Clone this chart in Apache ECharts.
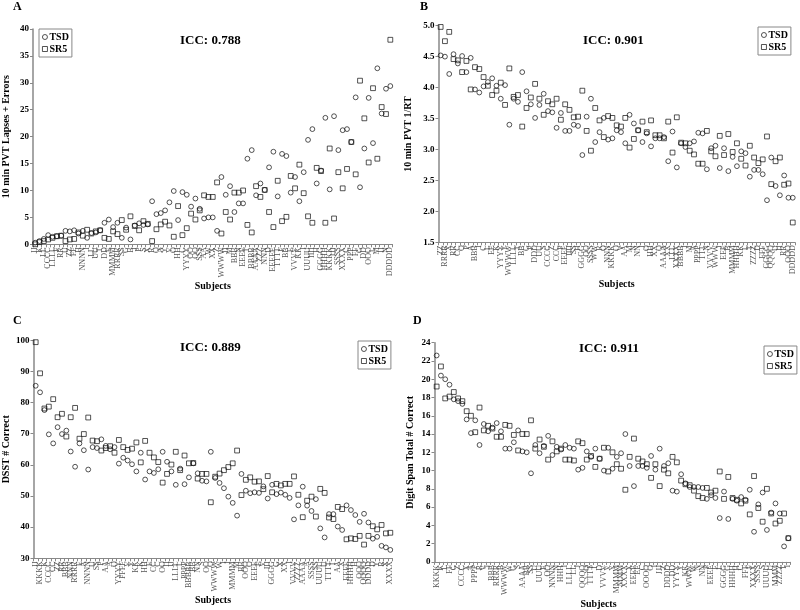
<!DOCTYPE html>
<html><head><meta charset="utf-8">
<script src="https://cdn.jsdelivr.net/npm/echarts@6/dist/echarts.min.js"></script>
<style>html,body{margin:0;padding:0;background:#fff}#c{width:800px;height:610px}</style>
</head><body><div id="c"></div>
<script>
// ---------- Panel A: 10 min PVT Lapses + Errors ----------
const subjectsA = ["JJ","K","LL","CCCC","LLLL","F","RR","U","ZZ","FF","H","NNNN","I","LL","UU","T","DD","E","MMMM","RRRR","SS","G","B","J","P","S","X","R","Q","A","Y","V","O","HH","C","YYYY","OO","QQ","SSS","AA","W","XX","Z","WWWW","II","M","BBB","N","EEEE","T","BBBB","AAAA","ZZZ","NNN","D","EEEEE","TTTT","F","BB","E","VVVV","KK","I","UUUU","IIII","H","GGGG","HHHH","KKKK","JJJ","SSSS","XXXX","C","PPP","FF","G","DD","OOO","L","M","II","N","DDDDD"];
const tsdA = [0.3,0.6,1.0,1.7,1.4,1.5,1.6,2.5,2.4,2.6,2.0,2.5,1.2,2.1,2.2,2.6,4.0,4.6,3.2,4.0,1.2,3.1,0.9,3.5,3.9,3.6,3.7,8.0,5.6,5.8,6.3,7.8,9.9,4.5,9.7,9.2,7.0,8.5,6.6,4.8,5.0,5.0,2.5,12.5,9.2,10.8,6.0,7.6,7.6,15.9,17.5,9.1,11.3,10.1,14.3,17.2,8.9,16.8,16.4,9.6,12.5,8.0,13.4,19.4,21.4,11.3,13.7,23.5,10.2,23.8,17.5,21.2,21.4,19.0,27.3,10.6,17.8,27.2,18.8,32.7,24.3,28.9,29.4];
const sr5A = [0.0,0.4,0.6,0.9,1.2,1.5,1.6,0.6,0.9,1.0,2.2,1.6,2.7,2.0,2.4,2.6,1.2,1.0,2.4,1.9,4.5,2.7,5.2,3.4,2.6,4.3,3.8,0.6,2.8,3.7,4.2,3.5,1.4,7.1,1.7,3.0,5.7,4.6,6.3,9.1,8.8,8.8,11.5,2.0,6.0,4.6,9.6,9.6,10.0,3.6,2.2,10.8,8.8,10.1,6.0,3.2,11.8,4.3,5.1,12.7,10.4,14.8,9.5,5.2,4.0,14.2,13.6,4.0,17.8,4.8,13.4,10.4,14.0,19.0,13.0,30.4,23.4,15.2,29.0,15.9,25.5,24.2,38.0];

// ---------- Panel B: 10 min PVT 1/RT ----------
const subjectsB = ["ZZ","RRRR","X","RR","CC","Q","F","A","BBB","I","C","L","EE","K","YYYY","Y","WWWW","LLLL","T","BB","G","P","DDD","UU","S","CCCC","Z","CCC","P","EEEE","IIII","SS","H","GGGG","OO","SSSS","WW","R","O","NNN","KKKK","Q","V","AA","M","N","NN","J","O","HH","XX","Q","AAAA","XX","LLL","XXXX","BBBB","J","M","A","PPPP","TTT","N","VVVV","WWW","J","EEE","B","MMMM","HHHH","KK","L","T","ZZZZ","D","FFF","GGGG","QQQQ","U","II","RR","OOO","DDDDD"];
const tsdB = [4.52,4.50,4.22,4.54,4.39,4.51,4.25,4.48,3.97,3.92,4.02,4.09,4.15,4.03,3.82,4.04,3.40,3.82,3.77,4.25,3.94,3.73,3.51,3.72,3.90,3.62,3.60,3.35,3.59,3.30,3.30,3.40,3.38,2.91,3.53,3.82,3.12,3.28,3.51,3.16,3.18,3.31,3.28,3.10,3.56,3.42,3.31,3.12,3.26,3.05,3.18,3.18,3.20,2.81,3.29,2.71,3.10,3.04,3.10,3.13,3.27,3.26,2.68,3.02,3.06,2.70,3.02,2.65,2.88,2.73,2.97,2.94,2.56,2.67,2.67,2.60,2.18,2.87,2.41,2.26,2.58,2.22,2.22];
const sr5B = [4.98,4.75,4.90,4.46,4.44,4.25,4.43,3.97,4.33,4.30,4.17,4.03,3.88,3.95,4.08,3.72,4.31,3.85,3.88,3.37,3.67,3.84,4.06,3.82,3.56,3.78,3.73,3.82,3.48,3.73,3.64,3.52,3.53,3.95,3.30,2.98,3.67,3.47,3.20,3.54,3.51,3.39,3.37,3.51,3.03,3.17,3.31,3.45,3.28,3.47,3.23,3.23,3.18,3.45,2.95,3.52,3.11,3.10,2.98,2.92,2.77,2.77,3.30,2.97,2.89,3.22,2.91,3.25,2.96,3.10,2.85,2.74,3.06,2.87,2.78,2.84,3.21,2.44,2.81,2.87,2.43,2.45,1.82];

// ---------- Panel C: DSST # Correct ----------
const subjectsC = ["JJ","KKKK","K","CCCC","CC","ZZ","RR","BBB","NNN","RRRR","E","A","NNNN","U","SS","P","AA","A","O","YYYY","FFFF","V","Y","KK","K","HH","E","CC","C","OO","II","JJ","LLLL","L","PPPP","BBBBB","BB","NN","S","OO","Q","WWWW","W","I","J","MMMM","M","BB","OOO","O","EEEE","E","V","III","GGGG","G","X","XX","I","VVVV","ZZZZ","AAAA","A","SSSS","SS","UUUU","U","TTTT","T","AA","X","EEEE","HHHH","H","QQQ","QQQQ","DDDD","D","Y","R","X","XXXX"];
const tsdC = [85.4,83.3,77.6,69.8,66.9,72.1,69.9,71.0,64.3,59.4,66.9,64.7,58.5,65.7,65.4,68.2,66.1,65.0,65.7,60.4,62.3,61.4,60.2,57.9,63.9,55.3,57.9,57.4,58.6,64.2,61.0,57.9,53.6,58.8,53.8,56.0,60.5,57.3,54.9,54.7,64.2,55.8,54.2,52.5,49.8,47.8,43.7,57.1,51.7,50.9,51.2,51.0,53.1,49.2,53.6,50.6,51.1,50.4,49.4,42.5,47.0,53.0,46.9,45.2,49.0,39.6,36.7,44.2,44.2,40.2,39.1,47.0,45.5,43.9,41.7,44.3,41.5,36.3,36.9,34.0,33.5,32.7];
const sr5C = [99.4,89.4,78.1,78.7,81.1,75.3,76.4,69.1,75.3,78.3,68.4,69.9,75.2,67.8,67.6,64.6,65.4,66.0,63.9,68.0,65.7,64.8,65.2,67.2,60.8,67.7,63.9,62.4,60.9,54.3,57.1,60.1,64.2,58.3,63.0,60.5,60.6,55.6,57.1,57.1,48.0,56.2,57.2,58.3,59.3,60.5,64.6,50.3,55.2,56.0,54.6,54.7,52.2,56.4,51.2,53.9,53.4,53.9,53.9,56.3,50.4,43.2,48.5,49.8,43.4,52.3,51.0,43.1,42.6,46.5,45.8,36.1,36.4,36.2,37.2,34.4,37.2,40.3,39.3,40.7,38.0,38.2];

// ---------- Panel D: Digit Span Total # Correct ----------
const subjectsD = ["KKKK","K","L","FF","C","Z","CCCC","X","A","PPPP","R","V","J","BBB","RRRR","B","WWWW","W","G","S","AAAA","BB","SS","U","UUU","E","OO","NNNN","N","HHH","I","LLLL","LL","J","QQQQ","Q","TTTT","T","D","VVVV","V","Y","MMMM","MMM","XXXX","X","EEEE","EE","C","OOOO","O","I","JJJ","Z","DDDD","DD","YYYY","Y","KK","WWW","W","N","NN","P","EEEE","E","L","GGGG","G","HHHH","H","C","FFF","F","XXXX","SSSS","S","UUUU","U","MMM","ZZZZ","T","I"];
const tsdD = [22.6,20.4,20.0,19.4,17.8,17.6,17.3,15.6,14.1,15.5,12.8,15.1,14.3,14.7,15.2,14.3,12.4,12.4,13.1,14.4,12.1,12.0,9.7,12.8,11.9,12.7,13.8,11.7,12.6,12.3,12.8,12.5,12.4,10.1,10.3,12.1,11.5,12.4,11.3,10.0,12.5,10.2,11.5,11.9,14.0,10.5,8.3,10.5,10.5,10.3,11.6,10.1,12.4,10.5,10.8,7.8,7.7,9.6,8.6,8.2,8.2,8.2,8.1,6.9,7.3,7.0,4.8,7.7,4.7,6.9,6.7,7.1,6.8,7.9,3.3,6.3,7.6,3.5,5.4,6.4,5.3,1.7,2.6];
const sr5D = [19.2,21.4,17.9,18.1,18.6,17.9,17.6,16.5,16.0,14.2,16.9,14.4,14.9,14.6,13.7,13.7,15.0,14.9,13.9,12.2,14.0,14.0,15.5,12.4,13.4,12.6,11.2,13.2,12.1,12.4,11.2,11.2,11.1,13.2,13.0,11.2,11.6,10.4,11.3,12.5,9.9,12.0,10.7,10.2,7.9,11.5,13.5,11.3,11.0,10.7,9.2,10.7,8.3,10.1,9.7,11.5,10.9,8.9,8.5,8.4,7.8,7.2,7.0,8.1,7.6,7.8,9.9,6.9,9.3,7.0,6.8,6.4,6.7,5.2,9.4,5.9,4.4,8.0,5.3,4.2,4.5,5.3,2.6];

const iccLabels = ["ICC: 0.788","ICC: 0.901","ICC: 0.889","ICC: 0.911"];
const panelLetters = ["A","B","C","D"];
const yNames = ["10 min PVT Lapses + Errors","10 min PVT 1/RT","DSST # Correct","Digit Span Total # Correct"];

const FONT = '"Liberation Serif","Times New Roman",serif';

const panels = [
  {cats:subjectsA, tsd:tsdA, sr5:sr5A, grid:{left:32.8, top:29, width:359.7, height:215.3}, y:{min:0,max:40,interval:5}, yGap:22, xGap:32, xPad:0,
   legend:{left:39, top:29}, letterPos:[13,1], iccPos:[180,34], dec:0},
  {cats:subjectsB, tsd:tsdB, sr5:sr5B, grid:{left:438.5, top:25.7, width:356.4, height:216.6}, y:{min:1.5,max:5,interval:0.5}, yGap:25, xGap:30, xPad:0,
   legend:{left:758, top:27}, letterPos:[420,1], iccPos:[583,34], dec:1},
  {cats:subjectsC, tsd:tsdC, sr5:sr5C, grid:{left:33.5, top:340.3, width:359, height:218}, y:{min:30,max:100,interval:10}, yGap:22, xGap:29, xPad:0,
   legend:{left:358, top:341}, letterPos:[13,315], iccPos:[180,341], dec:0},
  {cats:subjectsD, tsd:tsdD, sr5:sr5D, grid:{left:434.5, top:342.7, width:356, height:220}, y:{min:0,max:24,interval:2}, yGap:19, xGap:35, xPad:28,
   legend:{left:764, top:346}, letterPos:[413,315], iccPos:[579,342], dec:0}
];

const option = {animation:false, backgroundColor:'#fff', grid:[], xAxis:[], yAxis:[], series:[], legend:[], title:[]};
const markStyle = {color:'rgba(255,255,255,0)', borderColor:'#111', borderWidth:0.9};

panels.forEach((p,i)=>{
  option.grid.push(Object.assign({containLabel:false}, p.grid));
  option.xAxis.push({
    type:'category', gridIndex:i, data:p.cats, boundaryGap:true,
    axisLine:{lineStyle:{color:'#888', width:1}},
    axisTick:{show:true, interval:0, length:3, lineStyle:{color:'#888'}},
    axisLabel:{interval:0, rotate:90, fontSize:8, color:'#555', fontFamily:FONT, margin:3},
    splitLine:{show:false},
    name:'Subjects', nameLocation:'middle', nameGap:p.xGap,
    nameTextStyle:{fontFamily:FONT, fontWeight:'bold', fontSize:10, color:'#000', padding:[0,p.xPad,0,0]}
  });
  option.yAxis.push({
    type:'value', gridIndex:i, min:p.y.min, max:p.y.max, interval:p.y.interval,
    axisLine:{show:true, lineStyle:{color:'#888', width:1.5}},
    axisTick:{show:true, length:3, lineStyle:{color:'#888'}},
    splitLine:{show:false},
    axisLabel:{fontFamily:FONT, fontWeight:'bold', fontSize:9, color:'#000', margin:4,
      formatter: v => p.dec ? v.toFixed(p.dec) : String(v)},
    name:yNames[i], nameLocation:'middle', nameGap:p.yGap,
    nameTextStyle:{fontFamily:FONT, fontWeight:'bold', fontSize:10, color:'#000'}
  });
  option.series.push({
    type:'scatter', name:'TSD', xAxisIndex:i, yAxisIndex:i, symbol:'circle', symbolSize:4.8,
    itemStyle:markStyle, data:p.tsd
  });
  option.series.push({
    type:'scatter', name:'SR5', xAxisIndex:i, yAxisIndex:i, symbol:'rect', symbolSize:4.8,
    itemStyle:markStyle, data:p.sr5
  });
  option.legend.push({
    left:p.legend.left, top:p.legend.top, orient:'vertical', selectedMode:false,
    data:[{name:'TSD', icon:'circle'},{name:'SR5', icon:'rect'}],
    itemWidth:5, itemHeight:5, itemGap:2, padding:[3,3,3,3],
    borderColor:'#888', borderWidth:1,
    itemStyle:markStyle,
    textStyle:{fontFamily:FONT, fontWeight:'bold', fontSize:10, color:'#000', padding:[0,0,0,-3]}
  });
  option.title.push({
    text:panelLetters[i], left:p.letterPos[0], top:p.letterPos[1], padding:0,
    textStyle:{fontFamily:FONT, fontWeight:'bold', fontSize:12, color:'#000'}
  });
  option.title.push({
    text:iccLabels[i], left:p.iccPos[0], top:p.iccPos[1], padding:0,
    textStyle:{fontFamily:FONT, fontWeight:'bold', fontSize:13, color:'#000'}
  });
});

const chart = echarts.init(document.getElementById('c'), null, {renderer:'canvas'});
chart.setOption(option);
</script>
</body></html>
